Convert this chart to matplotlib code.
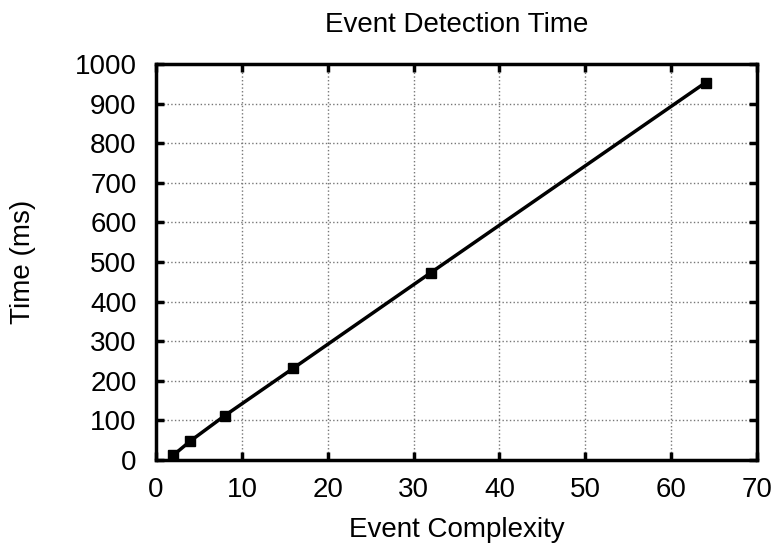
import matplotlib
matplotlib.use('Agg')
import matplotlib.pyplot as plt

# Event complexity vs detection time
complexity = [2, 4, 8, 16, 32, 64]
time_ms = [12, 48, 112, 232, 473, 953]

x_ticks = [0, 10, 20, 30, 40, 50, 60, 70]
y_ticks = [0, 100, 200, 300, 400, 500, 600, 700, 800, 900, 1000]

plt.rcParams['font.family'] = ['Liberation Sans', 'DejaVu Sans']

fig = plt.figure(figsize=(7.77, 5.47), dpi=100)
ax = fig.add_axes([0.2008, 0.159, 0.7735, 0.724])

ax.plot(complexity, time_ms, color='black', linewidth=2.5,
        marker='s', markersize=7, markeredgecolor='black', markerfacecolor='black')

ax.set_xlim(0, 70)
ax.set_ylim(0, 1000)
ax.set_xticks(x_ticks)
ax.set_yticks(y_ticks)

ax.grid(True, color='#777777', linestyle=':', linewidth=1)
ax.set_axisbelow(True)

for side in ax.spines.values():
    side.set_linewidth(2.5)

ax.tick_params(direction='in', length=6, width=2.5, top=True, right=True,
               labelsize=20)
ax.tick_params(axis='y', pad=14)
ax.tick_params(axis='x', pad=12)

ax.set_title('Event Detection Time', fontsize=20, pad=23)
ax.set_xlabel('Event Complexity', fontsize=20, labelpad=10)
ax.set_ylabel('Time (ms)', fontsize=20, labelpad=28)

fig.savefig('out.png', dpi=100)
plt.close(fig)
